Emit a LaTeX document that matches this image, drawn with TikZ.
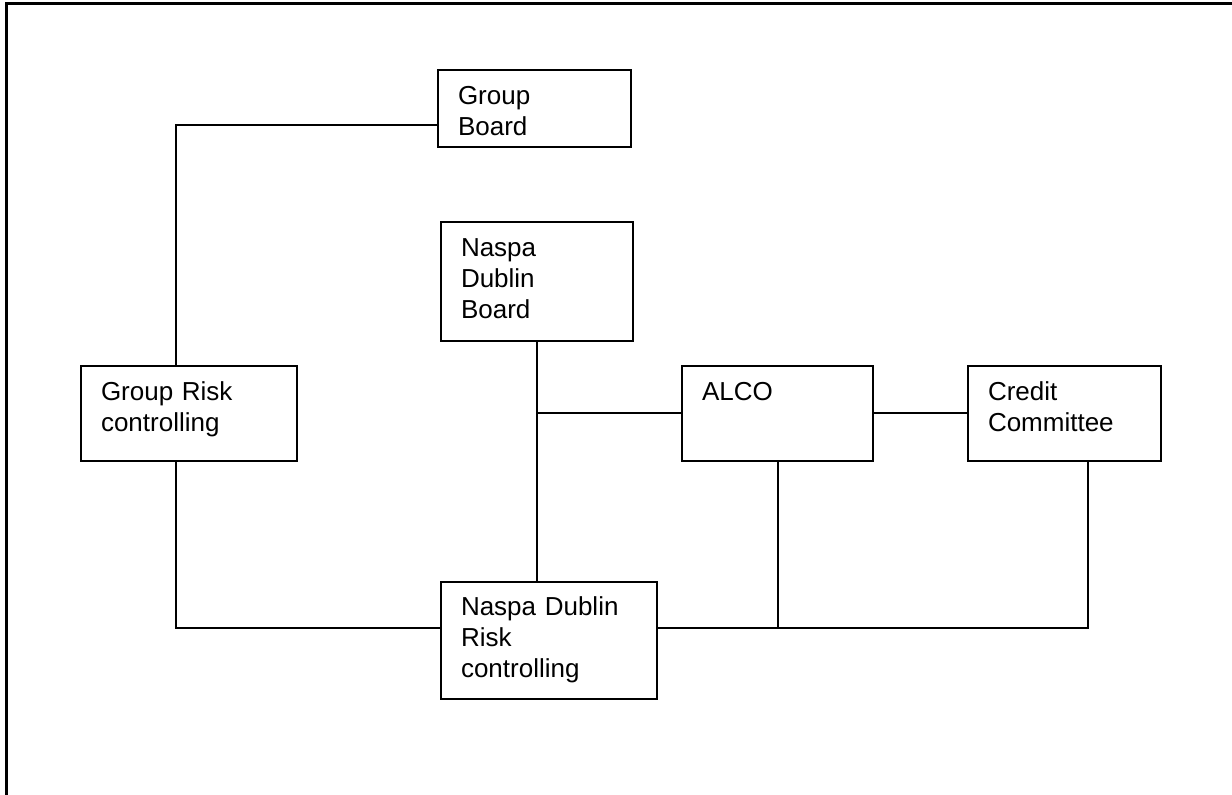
\documentclass[tikz,border=0pt]{standalone}
\usepackage{fontspec}
\setmainfont{Liberation Sans}

\begin{document}
\begin{tikzpicture}[x=0.5pt, y=-0.5pt, line width=1pt,
    orgbox/.style={draw, anchor=north west, align=left, inner xsep=10pt, inner ysep=0pt,
      text height=17.5pt, font=\fontsize{13pt}{15.5pt}\selectfont}]
    \useasboundingbox (0,0) rectangle (1232,795);

    % 枠
    \draw[line width=1.3pt] (1232,3.5) -- (6.5,3.5) -- (6.5,795);

    \node[orgbox, text width=76.5pt, text depth=21pt] (gboard) at (437,69) {Group\\Board};
    \node[orgbox, text width=76pt, text depth=42pt] (ndboard) at (440,221) {Naspa\\Dublin\\Board};
    \node[orgbox, text width=88pt, text depth=30pt] (grisk) at (80,365) {Group Risk\\controlling};
    \node[orgbox, text width=75.5pt, text depth=30pt] (alco) at (681,365) {ALCO};
    \node[orgbox, text width=76.5pt, text depth=30pt] (credit) at (967,365) {Credit\\Committee};
    \node[orgbox, text width=88pt, text height=17pt, text depth=41.5pt] (ndrisk) at (440,581) {Naspa Dublin\\Risk\\controlling};

    % 線を引く
    \coordinate (gbend) at (176,125);
    \coordinate (grdown) at (176,628);
    \coordinate (crdown) at (1088,628);
    \coordinate (ndjoin) at (ndboard.south |- alco.west);

    \draw (gbend -| gboard.west) -- (gbend) -- (gbend |- grisk.north);
    \draw (ndboard.south) -- (ndboard.south |- ndrisk.north);
    \draw (ndjoin) -- (alco.west);
    \draw (alco.east) -- (credit.west);

    % lower line
    \draw (grdown |- grisk.south) -- (grdown) -- (grdown -| ndrisk.west);
    \draw (ndrisk.east |- grdown) -- (crdown) -- (crdown |- credit.south);
    \draw (alco.south) -- (alco.south |- grdown);

  \end{tikzpicture}
\end{document}
